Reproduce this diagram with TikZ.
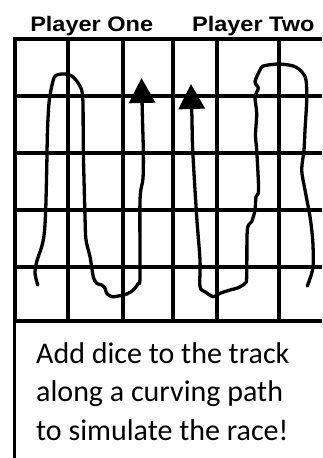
\documentclass[tikz,border=0pt]{standalone}
\usepackage{fontspec}
\setmainfont{Carlito}
\newfontfamily\titlefont{Liberation Sans}
\usetikzlibrary{arrows.meta}
\newcommand{\widetitle}[1]{\scalebox{1.12}[1]{#1}}
\begin{document}
\begin{tikzpicture}[x=1pt,y=-1pt,
  gridline/.style={line width=4pt},
  trackline/.style={line width=3.3pt, line cap=round, line join=round},
  tracktip/.style={-{Triangle[width=26pt,length=25pt]}},
  titletext/.style={font=\titlefont\bfseries\fontsize{21}{26}\selectfont, anchor=base, inner sep=0pt},
  bodytext/.style={font=\fontsize{30}{36}\selectfont, anchor=base west, inner sep=0pt}]
\useasboundingbox (0,0) rectangle (322,458);
\fill[white] (0,0) rectangle (322,458);
% titles
\node[titletext] (p1) at (91.7,31.7) {\widetitle{Player One}};
\node[titletext] (p2) at (253.3,31.7) {\widetitle{Player Two}};
% grid
\foreach \y in {39.3,96,152.5,210,266.7,321.3}
  \draw[gridline] (13.3,\y) -- (322,\y);
\foreach \x in {15.3,68.3,122.7,173.3,217.3,279.3}
  \draw[gridline] (\x,37.3) -- (\x,323.3);
% text box left border
\draw[line width=2.5pt] (14.3,321.3) -- (14.3,458);
% track one
\draw[trackline, tracktip] plot[smooth, tension=0.5] coordinates {
 (37.7,285) (35,273.3) (36.7,261.7) (41.7,246.7) (44.3,233.3) (45.7,210)
 (46.7,170) (47.5,130) (49.3,100) (53.3,80) (56.7,75) (65,74) (71.7,76)
 (78.3,83.3) (82.7,96.7) (83.3,150) (85,216.7) (86,240) (90,256.7)
 (93.3,276.7) (96.7,283.3) (101.7,285) (105,288.3) (106.7,293.3)
 (111.7,296.7) (118.3,296) (126.7,294) (133.3,290) (138.3,283.3)
 (140,276.7) (140,200) (143,178.3) (143.3,150) (142.5,120) (141.5,78)};
% track two
\draw[trackline, tracktip] plot[smooth, tension=0.5] coordinates {
 (307.3,286) (311.7,273.3) (313.3,263.3) (312.7,240) (310,216.7) (305,190)
 (301.7,170) (304,150) (305,130) (306.7,100) (306,80) (301.7,71.7)
 (293.3,66) (278.3,64) (263.3,66) (260,70) (255,81.7) (258.3,88.3)
 (255,96.7) (256.7,113.3) (255.5,135) (256.7,150) (258.3,180) (258.3,193.3)
 (256,196.7) (255,210) (251.7,221.7) (247.3,230) (246.7,276.7) (245,283.3)
 (238.3,287.7) (230,290) (220,293.3) (213.3,296.7) (205,291.7) (200,286.7)
 (200,260) (196.7,216.7) (192.7,150) (192,120) (191,84)};
% body text
\node[bodytext] (l1) at (36,363.3) {Add dice to the track};
\node[bodytext] (l2) at (36,401.7) {along a curving path};
\node[bodytext] (l3) at (36,440) {to simulate the race!};
\end{tikzpicture}
\end{document}
